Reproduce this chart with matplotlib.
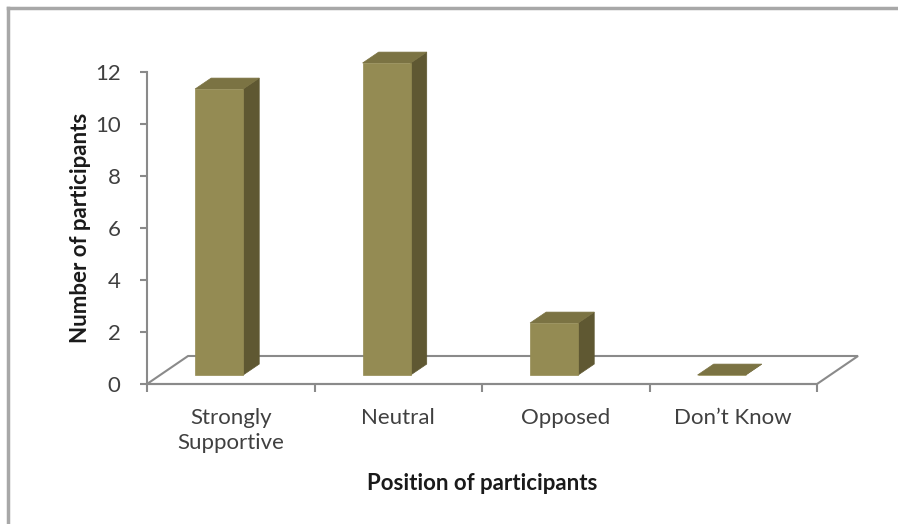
import matplotlib.pyplot as plt
from matplotlib.patches import Polygon
from matplotlib.lines import Line2D

categories = ['Strongly\nSupportive', 'Neutral', 'Opposed', 'Don\u2019t Know']
participants = [11, 12, 2, 0]
yticks = [0, 2, 4, 6, 8, 10, 12]

plt.rcParams['font.family'] = ['Lato', 'DejaVu Sans']

front_c = '#948b53'
top_c = '#7b7343'
side_c = '#5f5832'
edge_c = '#8a8a8a'
text_c = '#404040'

fig = plt.figure(figsize=(8.98, 5.24), dpi=100)
ax = fig.add_axes([147 / 898, 140 / 524, 670 / 898, 312 / 524])
ax.set_xlim(-0.5, len(categories) - 0.5)
ax.set_ylim(0, 12)

# floor of the 3D plot
fdx, fdy = 0.245, 1.077
x0, x1 = -0.5, len(categories) - 0.5
floor = Polygon([(x0, 0), (x1, 0), (x1 + fdx, fdy), (x0 + fdx, fdy)],
                closed=True, facecolor='none', edgecolor=edge_c, lw=1.5,
                clip_on=False, zorder=1)
ax.add_patch(floor)

# bars drawn as front / top / side faces
bx, bw, base = -0.213, 0.287, 0.346
ddx, ddy = 0.096, 0.42
for i, v in enumerate(participants):
    l, r = i + bx, i + bx + bw
    b, t = base, base + v
    faces = [
        ([(r, b), (r + ddx, b + ddy), (r + ddx, t + ddy), (r, t)], side_c),
        ([(l, t), (r, t), (r + ddx, t + ddy), (l + ddx, t + ddy)], top_c),
        ([(l, b), (r, b), (r, t), (l, t)], front_c),
    ]
    for pts, c in faces:
        ax.add_patch(Polygon(pts, closed=True, facecolor=c, edgecolor=c,
                             lw=0.5, clip_on=False, zorder=3))

for s in ['top', 'right']:
    ax.spines[s].set_visible(False)
for s in ['left', 'bottom']:
    ax.spines[s].set_color(edge_c)
    ax.spines[s].set_linewidth(1.5)

ax.set_yticks(yticks)
ax.set_yticklabels([str(y) for y in yticks])
ax.tick_params(axis='y', length=5, width=1.5, color=edge_c, pad=14,
               labelsize=16, labelcolor=text_c)

ax.set_xticks([i - 0.5 for i in range(len(categories) + 1)])
ax.set_xticklabels([])
ax.set_xticks(range(len(categories)), minor=True)
ax.set_xticklabels(categories, minor=True)
ax.tick_params(axis='x', which='major', length=6, width=1.5, color=edge_c)
ax.tick_params(axis='x', which='minor', length=0, pad=17,
               labelsize=16, labelcolor=text_c)
for lab in ax.get_xticklabels(minor=True):
    lab.set_linespacing(1.35)

ax.set_xlabel('Position of participants', fontsize=16, fontweight='bold',
              color='#1a1a1a', labelpad=14)
ax.set_ylabel('Number of participants', fontsize=16, fontweight='bold',
              color='#1a1a1a', labelpad=3)

# outer frame (left and top edges visible)
fig.add_artist(Line2D([8 / 898, 8 / 898], [0, 1 - 8 / 524],
                      color='#a8a8a8', lw=2.5))
fig.add_artist(Line2D([8 / 898, 1], [1 - 8 / 524, 1 - 8 / 524],
                      color='#a8a8a8', lw=2.5))

fig.savefig('out.png', dpi=100, facecolor='white')
